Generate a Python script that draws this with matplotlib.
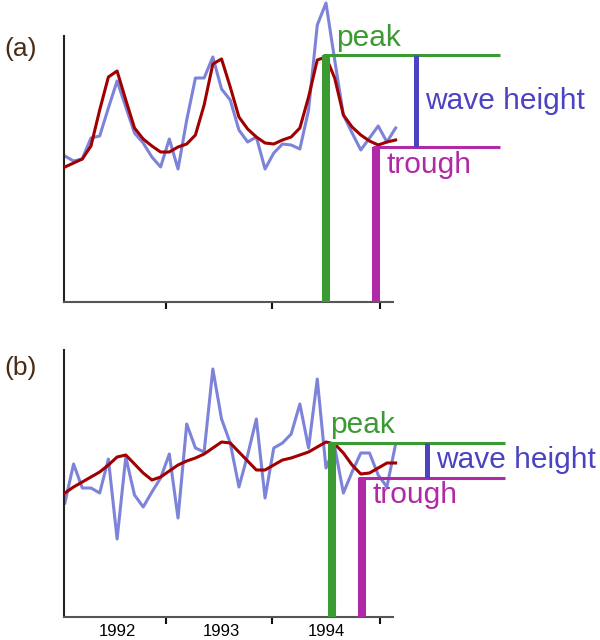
import numpy as np
import matplotlib.pyplot as plt

plt.rcParams['font.family'] = ['Liberation Sans', 'DejaVu Sans']

# monthly series, Jan 1992 .. Mar 1995 (values in arbitrary units)
raw_a = [146, 141, 143, 164, 166, 194, 221, 195, 169, 159, 145, 135, 163, 133, 182, 224,
         224, 245, 213, 202, 172, 160, 165, 133, 149, 158, 157, 153, 192, 277, 299, 242,
         187, 169, 152, 164, 176, 160, 174]
smooth_a = [135, 139, 143, 156, 192, 225, 231, 202, 174, 163, 156, 150, 150, 155, 158, 167,
            197, 238, 243, 215, 185, 173, 165, 159, 158, 162, 165, 174, 205, 242, 245, 224,
            187, 175, 167, 161, 157, 160, 162]
raw_b = [114, 153, 129, 129, 124, 158, 78, 160, 122, 110, 125, 139, 163, 99, 193, 169,
         165, 248, 198, 174, 130, 162, 198, 119, 169, 174, 183, 213, 169, 238, 149, 170,
         124, 145, 164, 164, 142, 130, 173]
smooth_b = [124, 130, 135, 140, 145, 152, 160, 162, 153, 144, 137, 140, 146, 152, 156, 159,
            163, 169, 175, 174, 165, 156, 147, 147, 152, 157, 159, 162, 165, 170, 175, 173,
            164, 152, 143, 144, 149, 154, 154]
months = np.arange(len(raw_a))

year_labels = ['1992', '1993', '1994']
year_label_pos = [6, 18, 30]
year_ticks = [11.6, 23.8, 36.2]

# peak / trough annotation: (peak month, trough month, peak level, trough level)
ann_a = dict(pk_x=30.0, tr_x=35.8, pk=247, tr=155, wave_x=40.3, end_x=50.0,
             peak_txt=(31.2, 256), wave_txt=(41.4, 193), trough_txt=(37.0, 129))
ann_b = dict(pk_x=30.7, tr_x=34.1, pk=174, tr=139, wave_x=41.6, end_x=50.6,
             peak_txt=(30.5, 184), wave_txt=(42.6, 149), trough_txt=(35.4, 114))

c_raw = '#7d83d8'
c_smooth = '#a00000'
c_peak = '#3b9a32'
c_trough = '#b02aa6'
c_wave = '#4b43c0'
c_lab = '#4a2c14'
fs = 21.5

fig = plt.figure(figsize=(6, 6.4), dpi=100)
ax_a = fig.add_axes([64/600, 1-302/640, 329/600, 266/640])
ax_b = fig.add_axes([64/600, 1-617/640, 329/600, 267/640])

for ax, raw, sm, an, ymax in [(ax_a, raw_a, smooth_a, ann_a, 266), (ax_b, raw_b, smooth_b, ann_b, 267)]:
    ax.plot(months, raw, color=c_raw, lw=2.2, clip_on=False, zorder=2)
    ax.plot(months, sm, color=c_smooth, lw=2.2, clip_on=False, zorder=3)

    ax.plot([an['pk_x'], an['pk_x']], [0, an['pk']], color=c_peak, lw=5.8, clip_on=False,
            solid_capstyle='butt', zorder=4)
    ax.plot([an['pk_x'] - 0.4, an['end_x']], [an['pk'], an['pk']], color=c_peak, lw=2.2,
            clip_on=False, solid_capstyle='butt', zorder=4)
    ax.plot([an['tr_x'], an['tr_x']], [0, an['tr']], color=c_trough, lw=5.8, clip_on=False,
            solid_capstyle='butt', zorder=4)
    ax.plot([an['tr_x'] - 0.4, an['end_x']], [an['tr'], an['tr']], color=c_trough, lw=2.2,
            clip_on=False, solid_capstyle='butt', zorder=4)
    ax.plot([an['wave_x'], an['wave_x']], [an['tr'], an['pk']], color=c_wave, lw=3.6,
            clip_on=False, solid_capstyle='butt', zorder=4)

    ax.text(*an['peak_txt'], 'peak', color=c_peak, fontsize=fs, va='baseline', ha='left')
    ax.text(*an['wave_txt'], 'wave height', color=c_wave, fontsize=fs, va='baseline', ha='left')
    ax.text(*an['trough_txt'], 'trough', color=c_trough, fontsize=fs, va='baseline', ha='left')

    ax.set_xlim(-0.1, 37.7)
    ax.set_ylim(0, ymax)
    ax.set_yticks([])
    ax.set_xticks(year_ticks)
    ax.set_xticklabels([])
    ax.tick_params(axis='x', which='major', direction='out', length=5, width=1.5, color='#111')
    ax.spines['top'].set_visible(False)
    ax.spines['right'].set_visible(False)
    ax.spines['left'].set_color('#222')
    ax.spines['bottom'].set_color('#555')
    ax.spines['left'].set_linewidth(1.5)
    ax.spines['bottom'].set_linewidth(1.5)
    ax.patch.set_visible(False)

ax_b.set_xticks(year_label_pos, minor=True)
ax_b.set_xticklabels(year_labels, minor=True, fontsize=12)
ax_b.tick_params(axis='x', which='minor', length=0, pad=5)

fig.text(21/600, 1-49/640, '(a)', color=c_lab, fontsize=19, ha='center', va='center')
fig.text(21/600, 1-368/640, '(b)', color=c_lab, fontsize=19, ha='center', va='center')

fig.savefig('out.png', dpi=100)
